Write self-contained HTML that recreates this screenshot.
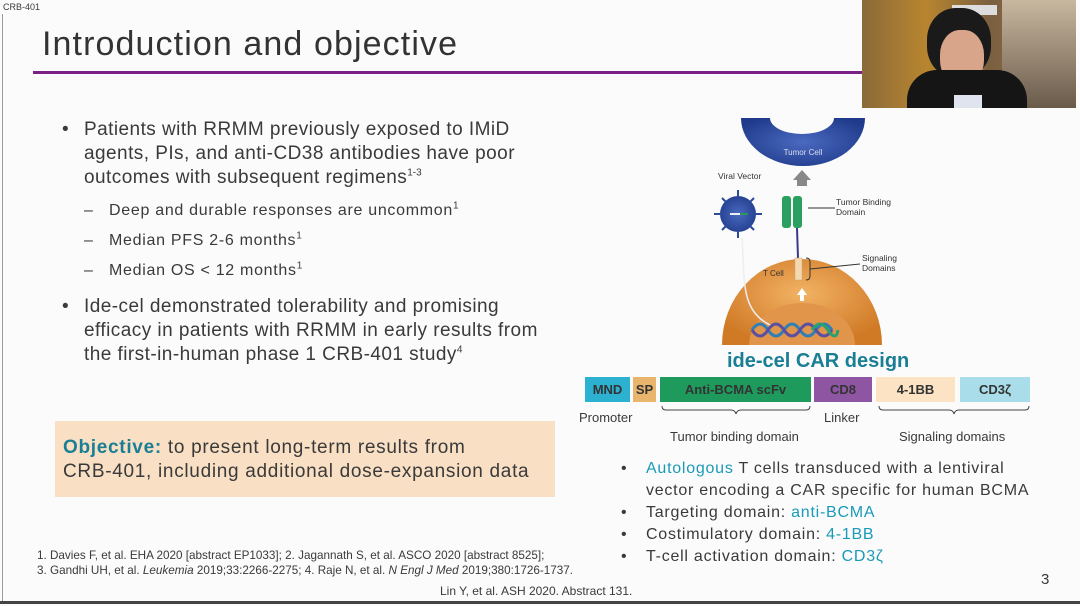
<!DOCTYPE html>
<html><head><meta charset="utf-8"><style>
*{margin:0;padding:0;box-sizing:border-box}
body{width:1080px;height:606px;overflow:hidden;background:#fbfbfb;font-family:"Liberation Sans",sans-serif;color:#3a3a3a;position:relative}
.a{position:absolute;white-space:nowrap}
.b{font-size:19px;line-height:24px;letter-spacing:0.45px}
.s{font-size:16px;letter-spacing:0.7px}
.r{font-size:16px;line-height:22px;letter-spacing:0.75px}
.t{color:#1a9ab8}
.bx{position:absolute;top:377px;height:25px;font-size:13px;font-weight:bold;display:flex;align-items:center;justify-content:center;color:#333}
sup{font-size:10px;line-height:0;letter-spacing:0}
</style></head><body>
<div style="position:absolute;left:2px;top:14px;width:1px;height:590px;background:#999"></div>
<div style="position:absolute;left:0;top:601px;width:1080px;height:3px;background:#444"></div>
<div class="a" style="left:3px;top:2px;font-size:9px">CRB-401</div>
<div class="a" style="left:42px;top:25px;font-size:34px;letter-spacing:1.1px;color:#333">Introduction and objective</div>
<div style="position:absolute;left:33px;top:71px;width:830px;height:3px;background:#7b2184"></div>
<!-- webcam -->
<div style="position:absolute;left:862px;top:0;width:214px;height:108px;background:linear-gradient(90deg,#8a6a3a 0%,#b8852f 30%,#7a6040 60%,#9a7a50 100%)">
<div style="position:absolute;left:140px;top:0;width:74px;height:108px;background:linear-gradient(180deg,#c8b8a0,#6a5a4a)"></div>
<div style="position:absolute;left:90px;top:5px;width:45px;height:10px;background:#ddd"></div>
<div style="position:absolute;left:65px;top:8px;width:64px;height:70px;border-radius:45%;background:#1a1a1a"></div>
<div style="position:absolute;left:78px;top:30px;width:44px;height:55px;border-radius:45%;background:#d9a58a"></div>
<div style="position:absolute;left:45px;top:70px;width:120px;height:38px;border-radius:30px 30px 0 0;background:#151515"></div>
<div style="position:absolute;left:92px;top:95px;width:28px;height:13px;background:#e0e4ee"></div>
</div>
<!-- left bullets -->
<div class="a b" style="left:62px;top:118px">•</div>
<div class="a b" style="left:84px;top:118px">Patients with RRMM previously exposed to IMiD<br>agents, PIs, and anti-CD38 antibodies have poor<br>outcomes with subsequent regimens<sup>1-3</sup></div>
<div class="a s" style="left:84px;top:202px">–&nbsp;&nbsp; Deep and durable responses are uncommon<sup>1</sup></div>
<div class="a s" style="left:84px;top:232px">–&nbsp;&nbsp; Median PFS 2-6 months<sup>1</sup></div>
<div class="a s" style="left:84px;top:262px">–&nbsp;&nbsp; Median OS &lt; 12 months<sup>1</sup></div>
<div class="a b" style="left:62px;top:295px">•</div>
<div class="a b" style="left:84px;top:295px">Ide-cel demonstrated tolerability and promising<br>efficacy in patients with RRMM in early results from<br>the first-in-human phase 1 CRB-401 study<sup>4</sup></div>
<div style="position:absolute;left:55px;top:421px;width:500px;height:76px;background:#f9dfc4"></div>
<div class="a b" style="left:63px;top:436px;line-height:24px;letter-spacing:0.7px"><b style="color:#1a7f95">Objective:</b> to present long-term results from<br>CRB-401, including additional dose-expansion data</div>
<div class="a" style="left:37px;top:548px;font-size:11.7px;line-height:15px">1. Davies F, et al. EHA 2020 [abstract EP1033]; 2. Jagannath S, et al. ASCO 2020 [abstract 8525];<br>3. Gandhi UH, et al. <i>Leukemia</i> 2019;33:2266-2275; 4. Raje N, et al. <i>N Engl J Med</i> 2019;380:1726-1737.</div>
<div class="a" style="left:440px;top:584px;font-size:12px">Lin Y, et al. ASH 2020. Abstract 131.</div>
<div class="a" style="left:1041px;top:571px;font-size:15px">3</div>
<!-- diagram -->
<svg style="position:absolute;left:0;top:0" width="1080" height="606">
<defs><radialGradient id="o" cx="50%" cy="40%" r="60%"><stop offset="0" stop-color="#f2b264"/><stop offset="1" stop-color="#d07a26"/></radialGradient>
<radialGradient id="bl" cx="50%" cy="50%" r="60%"><stop offset="0" stop-color="#4a6ac0"/><stop offset="1" stop-color="#1f3a8a"/></radialGradient></defs>
<path d="M741 118 A62 48 0 0 0 865 118 Z" fill="url(#bl)"/>
<path d="M770 118 A32 16 0 0 0 834 118 Z" fill="#fbfbfb"/>
<text x="803" y="155" font-size="8" fill="#dde" text-anchor="middle" font-family="Liberation Sans">Tumor Cell</text>
<path d="M722 345 A80 86 0 0 1 882 345 Z" fill="url(#o)"/>
<path d="M749 345 A53 42 0 0 1 855 345 Z" fill="#e0954a"/>
<g stroke-width="3" fill="none"><path d="M752 330 q8 -12 16 0 t16 0 t16 0 t16 0 t16 0" stroke="#2f7fb8"/><path d="M752 330 q8 12 16 0 t16 0 t16 0 t16 0 t16 0" stroke="#5a4fa0"/><path d="M812 330 q8 -12 16 0 t10 0" stroke="#2aa070"/></g>
<text x="763" y="276" font-size="8" fill="#333" font-family="Liberation Sans">T Cell</text>
<path d="M797 295 l5 -7 l5 7 h-3 v6 h-4 v-6z" fill="#fff"/>
<circle cx="738" cy="214" r="18" fill="url(#bl)"/>
<g stroke="#2a4a9a" stroke-width="2"><line x1="738" y1="190" x2="738" y2="196"/><line x1="738" y1="232" x2="738" y2="238"/><line x1="714" y1="214" x2="720" y2="214"/><line x1="756" y1="214" x2="762" y2="214"/><line x1="722" y1="198" x2="726" y2="202"/><line x1="750" y1="226" x2="754" y2="230"/><line x1="754" y1="198" x2="750" y2="202"/><line x1="726" y1="226" x2="722" y2="230"/></g>
<line x1="730" y1="214" x2="746" y2="214" stroke="#eee" stroke-width="2"/><line x1="740" y1="214" x2="748" y2="214" stroke="#2a9a5a" stroke-width="2"/>
<path d="M742 238 C745 280 740 310 770 325" stroke="#eee" stroke-width="1.5" fill="none"/>
<path d="M793 180 l9 -10 l9 10 h-4 v6 h-10 v-6z" fill="#888"/>
<rect x="782" y="196" width="9" height="32" rx="3" fill="#2aa060"/><rect x="793" y="196" width="9" height="32" rx="3" fill="#2aa060"/>
<line x1="797" y1="228" x2="798" y2="258" stroke="#3a3a8a" stroke-width="2"/>
<rect x="795" y="258" width="7" height="22" fill="#f4d8b0" stroke="#c9a870" stroke-width=".5"/>
<path d="M806 258 q4 0 4 4 v14 q0 4 -4 4" fill="none" stroke="#333"/><line x1="810" y1="269" x2="860" y2="264" stroke="#333"/>
<line x1="808" y1="208" x2="835" y2="208" stroke="#333"/>
<g font-size="8.5" fill="#333" font-family="Liberation Sans"><text x="718" y="179">Viral Vector</text><text x="836" y="205">Tumor Binding</text><text x="836" y="215">Domain</text><text x="862" y="261">Signaling</text><text x="862" y="271">Domains</text></g>
<g stroke="#444" fill="none" stroke-width="1"><path d="M662 406 q0 4 4 4 h65 q4 0 5 4 q1 -4 5 -4 h65 q4 0 4 -4"/><path d="M879 406 q0 4 4 4 h66 q4 0 5 4 q1 -4 5 -4 h66 q4 0 4 -4"/></g>
</svg>
<div class="a" style="left:727px;top:350px;font-size:20px;font-weight:bold;color:#1a7f95">ide-cel CAR design</div>
<div class="bx" style="left:585px;width:45px;background:#2db1d0">MND</div>
<div class="bx" style="left:633px;width:23px;background:#e9b46c">SP</div>
<div class="bx" style="left:660px;width:151px;background:#1e9b5c">Anti-BCMA scFv</div>
<div class="bx" style="left:814px;width:58px;background:#8e55a2">CD8</div>
<div class="bx" style="left:876px;width:79px;background:#fbe3c4">4-1BB</div>
<div class="bx" style="left:960px;width:70px;background:#a8dde9">CD3ζ</div>
<div class="a" style="left:579px;top:410px;font-size:13px">Promoter</div>
<div class="a" style="left:824px;top:410px;font-size:13px">Linker</div>
<div class="a" style="left:670px;top:429px;font-size:13px">Tumor binding domain</div>
<div class="a" style="left:899px;top:429px;font-size:13px">Signaling domains</div>
<div class="a r" style="left:621px;top:458px">•<br>&nbsp;<br>•<br>•<br>•</div>
<div class="a r" style="left:646px;top:458px"><span class="t">Autologous</span> T cells transduced with a lentiviral<br>vector encoding a CAR specific for human BCMA<br>Targeting domain: <span class="t">anti-BCMA</span><br>Costimulatory domain: <span class="t">4-1BB</span><br>T-cell activation domain: <span class="t">CD3ζ</span></div>
</body></html>
